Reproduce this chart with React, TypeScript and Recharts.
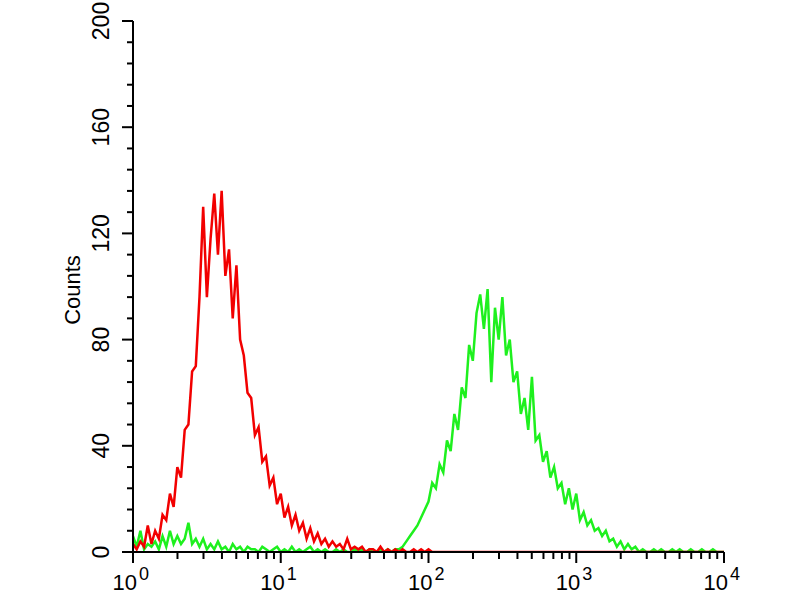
import React from 'react';
import { LineChart, Line, XAxis, YAxis } from 'recharts';

// histogram channels, 0.025 decade per bin from 10^0 to 10^4
const BIN_STEP = 0.025;

const redCounts = [
    3, 1, 4, 2, 10, 3, 8, 5, 14, 12,
    22, 17, 32, 28, 46, 48, 68, 70, 96, 130,
    96, 118, 135, 112, 136, 104, 114, 88, 108, 80,
    74, 60, 58, 44, 47, 34, 36, 25, 28, 18,
    22, 13, 17, 10, 14, 8, 11, 5, 9, 4,
    7, 3, 5, 2, 4, 2, 3, 1, 5, 1,
    2, 1, 2, 0, 1, 1, 0, 2, 0, 1,
    0, 1, 0, 1, 0, 0, 1, 0, 1, 0,
    1, 0, 0, 0, 0, 0, 0, 0, 0, 0,
    0, 0, 0, 0, 0, 0, 0, 0, 0, 0,
    0, 0, 0, 0, 0, 0, 0, 0, 0, 0,
    0, 0, 0, 0, 0, 0, 0, 0, 0, 0,
    0, 0, 0, 0, 0, 0, 0, 0, 0, 0,
    0, 0, 0, 0, 0, 0, 0, 0, 0, 0,
    0, 0, 0, 0, 0, 0, 0, 0, 0, 0,
    0, 0, 0, 0, 0, 0, 0, 0, 0, 0,
    0,
];

const greenCounts = [
    6, 2, 8, 1, 3, 2, 4, 1, 6, 2,
    8, 3, 6, 3, 5, 11, 3, 5, 2, 5,
    1, 3, 1, 4, 1, 2, 0, 3, 1, 2,
    0, 2, 1, 1, 0, 2, 1, 0, 1, 2,
    0, 1, 0, 2, 0, 1, 0, 1, 2, 0,
    1, 0, 1, 0, 0, 1, 0, 1, 0, 0,
    1, 0, 1, 0, 1, 0, 0, 1, 0, 1,
    0, 1, 1, 2, 4, 6, 8, 10, 13, 16,
    19, 26, 24, 33, 30, 42, 38, 52, 46, 62,
    58, 78, 72, 90, 97, 84, 99, 64, 92, 80,
    96, 74, 80, 64, 68, 52, 58, 46, 66, 42,
    44, 34, 38, 28, 32, 24, 26, 18, 24, 16,
    22, 12, 15, 10, 12, 8, 9, 6, 8, 4,
    5, 2, 4, 1, 3, 1, 2, 0, 1, 0,
    0, 1, 0, 1, 0, 0, 1, 0, 1, 0,
    0, 1, 0, 0, 1, 0, 0, 1, 0, 0,
    0,
];

const xDecades = [1, 10, 100, 1000, 10000];
const xMinorSteps = [2, 3, 4, 5, 6, 7, 8, 9];
const yMajorTicks = [0, 40, 80, 120, 160, 200];
const yMinorStep = 8;

const data = redCounts.map((red, i) => ({
    fl: Math.pow(10, i * BIN_STEP),
    red,
    green: greenCounts[i],
}));

const xTicks = [
    ...xDecades,
    ...xDecades.slice(0, -1).flatMap((d) => xMinorSteps.map((m) => d * m)),
].sort((a, b) => a - b);

const yTicks: number[] = [];
for (let v = 0; v <= 200; v += yMinorStep) yTicks.push(v);

const FONT = '"Liberation Sans", Arial, Helvetica, sans-serif';

const XTick = (props: any) => {
    const { x, y, payload } = props;
    const v = payload.value;
    const major = xDecades.includes(v);
    const exp = Math.round(Math.log10(v));
    return (
        <g>
            <line x1={x} y1={y} x2={x} y2={y + (major ? 11 : 7)} stroke="#000" strokeWidth={2} />
            {major && (
                <g fontFamily={FONT} fill="#000">
                    <text x={x + 4} y={y + 38} textAnchor="end" fontSize={22}>10</text>
                    <text x={x + 6} y={y + 28} textAnchor="start" fontSize={18}>{exp}</text>
                </g>
            )}
        </g>
    );
};

const YTick = (props: any) => {
    const { x, y, payload } = props;
    const v = payload.value;
    const major = yMajorTicks.includes(v);
    const lx = x - 32;
    return (
        <g>
            <line x1={x - (major ? 11 : 6)} y1={y} x2={x} y2={y} stroke="#000" strokeWidth={2} />
            {major && (
                <text
                    x={lx}
                    y={y}
                    textAnchor="middle"
                    dominantBaseline="central"
                    transform={`rotate(-90, ${lx}, ${y})`}
                    fontFamily={FONT}
                    fontSize={23}
                    fill="#000"
                >
                    {v}
                </text>
            )}
        </g>
    );
};

const CountsLabel = () => (
    <text
        x={72}
        y={290}
        textAnchor="middle"
        dominantBaseline="central"
        transform="rotate(-90, 72, 290)"
        fontFamily={FONT}
        fontSize={22}
        fill="#000"
    >
        Counts
    </text>
);

export default function App() {
    return (
        <div style={{ position: 'fixed', left: 0, top: 0, width: 800, height: 600, background: '#fff' }}>
            <LineChart
                width={800}
                height={600}
                data={data}
                margin={{ top: 21, right: 76, bottom: 0, left: 0 }}
            >
                <XAxis
                    dataKey="fl"
                    type="number"
                    scale="log"
                    domain={[1, 10000]}
                    allowDataOverflow
                    ticks={xTicks}
                    interval={0}
                    height={48}
                    tickSize={0}
                    tickMargin={0}
                    tickLine={false}
                    axisLine={{ stroke: '#000', strokeWidth: 2 }}
                    tick={(p: any) => <XTick {...p} />}
                />
                <XAxis
                    xAxisId="top"
                    orientation="top"
                    type="number"
                    scale="log"
                    domain={[1, 10000]}
                    allowDataOverflow
                    height={0}
                    tick={false}
                    tickLine={false}
                    axisLine={{ stroke: '#000', strokeWidth: 2 }}
                />
                <YAxis
                    type="number"
                    domain={[0, 200]}
                    allowDataOverflow
                    ticks={yTicks}
                    interval={0}
                    width={133}
                    tickSize={0}
                    tickMargin={0}
                    tickLine={false}
                    axisLine={{ stroke: '#000', strokeWidth: 2 }}
                    tick={(p: any) => <YTick {...p} />}
                    label={<CountsLabel />}
                />
                <YAxis
                    yAxisId="right"
                    orientation="right"
                    type="number"
                    domain={[0, 200]}
                    width={0}
                    tick={false}
                    tickLine={false}
                    axisLine={{ stroke: '#000', strokeWidth: 2 }}
                />
                <Line
                    type="linear"
                    dataKey="green"
                    stroke="#1ef01e"
                    strokeWidth={2.5}
                    dot={false}
                    isAnimationActive={false}
                />
                <Line
                    type="linear"
                    dataKey="red"
                    stroke="#f20000"
                    strokeWidth={2.5}
                    dot={false}
                    isAnimationActive={false}
                />
            </LineChart>
        </div>
    );
}
